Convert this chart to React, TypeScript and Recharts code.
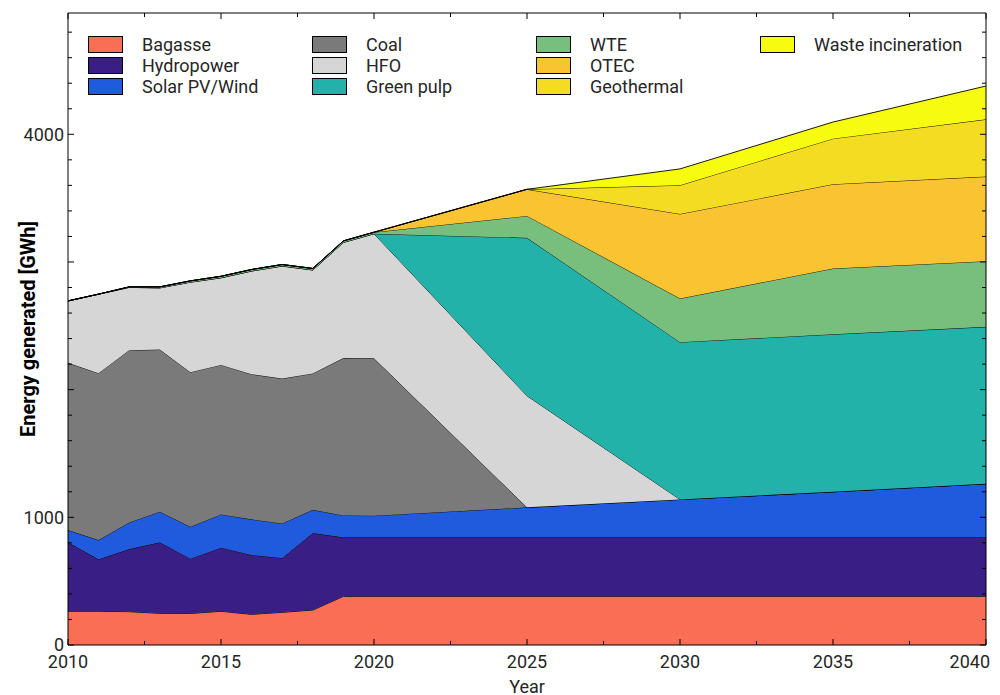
import React from 'react';
import { AreaChart, Area, XAxis, YAxis, ReferenceLine } from 'recharts';

// years on the x axis (yearly to 2020, then every 5 years)
const YEARS = [2010, 2011, 2012, 2013, 2014, 2015, 2016, 2017, 2018, 2019, 2020, 2025, 2030, 2035, 2040];

// GWh per source, stacked bottom to top
const BAGASSE = [264, 264, 261, 248, 247, 264, 240, 256, 274, 381, 381, 381, 381, 381, 381];
const HYDROPOWER = [540, 407, 490, 556, 429, 498, 465, 425, 603, 462, 462, 462, 462, 462, 462];
const SOLAR_WIND = [96, 151, 209, 240, 250, 261, 279, 271, 182, 172, 170, 235, 297, 357, 420];
const COAL = [1310, 1307, 1349, 1270, 1211, 1171, 1137, 1135, 1068, 1232, 1232, 0, 0, 0, 0];
const HFO = [485, 619, 492, 483, 705, 682, 808, 881, 810, 906, 976, 874, 0, 0, 0];
const GREEN_PULP = [0, 0, 0, 0, 0, 0, 0, 0, 0, 0, 0, 1237, 1232, 1234, 1229];
const WTE = [0, 0, 4, 8, 10, 12, 12, 12, 12, 12, 12, 172, 342, 515, 514];
const OTEC = [0, 0, 0, 0, 0, 0, 0, 0, 0, 0, 0, 208, 662, 660, 663];
const GEOTHERMAL = [0, 0, 0, 0, 0, 0, 0, 0, 0, 0, 0, 0, 225, 357, 448];
const WASTE_INCINERATION = [0, 0, 0, 0, 0, 0, 0, 0, 0, 0, 0, 0, 128, 130, 261];

const X_TICKS = [2010, 2012.5, 2015, 2017.5, 2020, 2022.5, 2025, 2027.5, 2030, 2032.5, 2035, 2037.5, 2040];
const X_LABELS = [2010, 2015, 2020, 2025, 2030, 2035, 2040];
const Y_TICKS = [0, 200, 400, 600, 800, 1000, 1200, 1400, 1600, 1800, 2000, 2200, 2400, 2600, 2800, 3000, 3200, 3400, 3600, 3800, 4000, 4200, 4400, 4600, 4800];
const Y_LABELS = [0, 1000, 4000];
const Y_MAX = 4950;

const SERIES = [
  { key: 'bagasse', name: 'Bagasse', values: BAGASSE, color: '#fa6e55' },
  { key: 'hydro', name: 'Hydropower', values: HYDROPOWER, color: '#391e86' },
  { key: 'solar', name: 'Solar PV/Wind', values: SOLAR_WIND, color: '#1f5bdc' },
  { key: 'coal', name: 'Coal', values: COAL, color: '#7a7a7a' },
  { key: 'hfo', name: 'HFO', values: HFO, color: '#d6d6d6' },
  { key: 'greenPulp', name: 'Green pulp', values: GREEN_PULP, color: '#23b2a9' },
  { key: 'wte', name: 'WTE', values: WTE, color: '#78be7c' },
  { key: 'otec', name: 'OTEC', values: OTEC, color: '#f9c332' },
  { key: 'geo', name: 'Geothermal', values: GEOTHERMAL, color: '#f3dc22' },
  { key: 'waste', name: 'Waste incineration', values: WASTE_INCINERATION, color: '#f6fb0f' },
];

const data = YEARS.map((year, i) => {
  const row: Record<string, number> = { year };
  SERIES.forEach((s) => {
    row[s.key] = s.values[i];
  });
  return row;
});

const W = 992;
const H = 687;
const MARGIN = { top: 5, right: 14, bottom: 0, left: 0 };
const YAXIS_W = 60;
const XAXIS_H = 50;
const PLOT_W = W - MARGIN.left - MARGIN.right - YAXIS_W;
const PLOT_H = H - MARGIN.top - MARGIN.bottom - XAXIS_H;
const FONT = 'Roboto, "Noto Sans", sans-serif';
const TEXT = '#262626';

const YTick = ({ x, y, payload }: any) => {
  const major = payload.value % 1000 === 0;
  const len = major ? 6 : 4;
  return (
    <g>
      <line x1={x} x2={x + len} y1={y} y2={y} stroke="#000" />
      <line x1={x + PLOT_W} x2={x + PLOT_W - len} y1={y} y2={y} stroke="#000" />
      {Y_LABELS.includes(payload.value) && (
        <text x={x - 4} y={y} dy="0.36em" textAnchor="end" fontSize={18} fill={TEXT} fontFamily={FONT}>
          {payload.value}
        </text>
      )}
    </g>
  );
};

const XTick = ({ x, y, payload }: any) => {
  const major = X_LABELS.includes(payload.value);
  const len = major ? 6 : 4;
  // last label is kept inside the figure, like the original
  const last = payload.value === X_LABELS[X_LABELS.length - 1];
  return (
    <g>
      <line x1={x} x2={x} y1={y} y2={y - len} stroke="#000" />
      <line x1={x} x2={x} y1={y - PLOT_H} y2={y - PLOT_H + len} stroke="#000" />
      {major && (
        <text
          x={last ? x + 4 : x}
          y={y + 17}
          dy="0.36em"
          textAnchor={last ? 'end' : 'middle'}
          fontSize={18}
          fill={TEXT}
          fontFamily={FONT}
        >
          {payload.value}
        </text>
      )}
    </g>
  );
};

export default function App() {
  return (
    <div style={{ position: 'relative', width: W, height: H, fontFamily: FONT }}>
      <AreaChart width={W} height={H} data={data} margin={MARGIN}>
        <XAxis
          dataKey="year"
          type="number"
          domain={[2010, 2040]}
          ticks={X_TICKS}
          interval={0}
          height={XAXIS_H}
          tickLine={false}
          tickSize={0}
          tickMargin={0}
          axisLine={{ stroke: '#000' }}
          tick={<XTick />}
          label={{ value: 'Year', position: 'insideBottom', offset: 2, fontSize: 18, fill: TEXT, fontFamily: FONT }}
        />
        <YAxis
          type="number"
          domain={[0, Y_MAX]}
          ticks={Y_TICKS}
          interval={0}
          width={YAXIS_W}
          tickLine={false}
          tickSize={0}
          tickMargin={0}
          axisLine={{ stroke: '#000' }}
          tick={<YTick />}
          label={{
            value: 'Energy generated [GWh]',
            angle: -90,
            position: 'insideLeft',
            offset: 20,
            style: { textAnchor: 'middle', fontSize: 20, fontWeight: 700, fill: '#000', fontFamily: FONT },
          }}
        />
        {SERIES.map((s) => (
          <Area
            key={s.key}
            type="linear"
            dataKey={s.key}
            name={s.name}
            stackId="1"
            fill={s.color}
            fillOpacity={1}
            stroke="#000"
            strokeWidth={0.9}
            dot={false}
            activeDot={false}
            isAnimationActive={false}
          />
        ))}
        <ReferenceLine y={Y_MAX} stroke="#000" />
        <ReferenceLine x={2040} stroke="#000" />
      </AreaChart>
      <div
        style={{
          position: 'absolute',
          left: 80,
          top: 26,
          display: 'grid',
          gridTemplateColumns: 'repeat(4, 224px)',
          gridTemplateRows: 'repeat(3, 21px)',
          gridAutoFlow: 'column',
          fontSize: 18,
          color: TEXT,
        }}
      >
        {SERIES.map((s) => (
          <div key={s.key} style={{ display: 'flex', alignItems: 'center', height: 21, whiteSpace: 'nowrap' }}>
            <span
              style={{
                display: 'inline-block',
                width: 33,
                height: 15,
                background: s.color,
                border: '1px solid #000',
                marginRight: 19,
              }}
            />
            <span>{s.name}</span>
          </div>
        ))}
      </div>
    </div>
  );
}
